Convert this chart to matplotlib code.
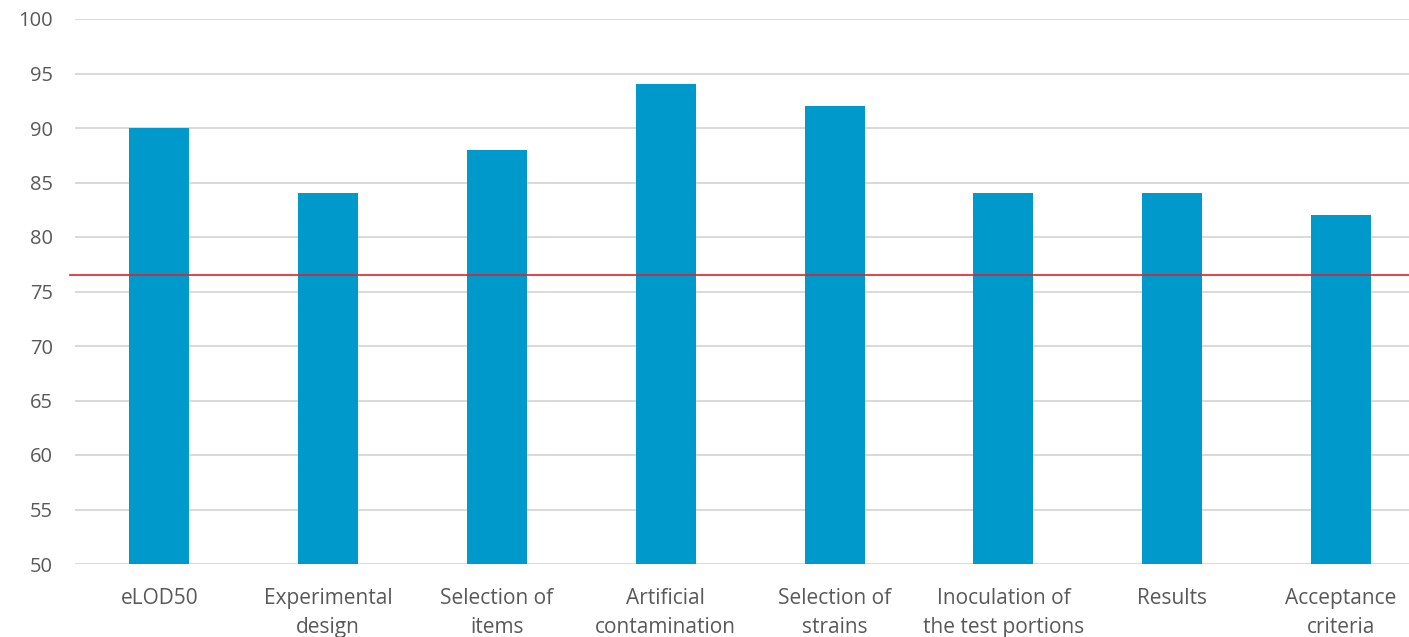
import matplotlib
matplotlib.use("Agg")
import matplotlib.pyplot as plt
import matplotlib.transforms as mtransforms

categories = ["eLOD50", "Experimental\ndesign", "Selection of\nitems",
              "Artificial\ncontamination", "Selection of\nstrains",
              "Inoculation of\nthe test portions", "Results", "Acceptance\ncriteria"]
scores = [90, 84, 88, 94, 92, 84, 84, 82]
threshold = 76.5
y_ticks = list(range(50, 101, 5))

plt.rcParams["font.family"] = ["Open Sans", "DejaVu Sans"]

fig = plt.figure(figsize=(14.09, 6.37), dpi=100)
W, H = 1409, 637
left, right, top, bottom = 75, 1409, 19, 564
ax = fig.add_axes([left / W, 1 - bottom / H, (right - left) / W, (bottom - top) / H])

spacing = 168.8
ax.set_xlim(-0.5, -0.5 + (right - left) / spacing)
ax.set_ylim(50, 100)

ax.set_yticks(y_ticks)
ax.yaxis.grid(True, color="#D9D9D9", linewidth=1.4)
ax.set_axisbelow(True)

ax.bar(range(len(categories)), [s - 50 for s in scores], bottom=50,
       width=0.355, color="#0099CC", zorder=2)

trans = mtransforms.blended_transform_factory(ax.transAxes, ax.transData)
ax.plot([-5 / (right - left), 1.0], [threshold, threshold], transform=trans,
        color="#E0232B", linewidth=1.2, clip_on=False, zorder=3)

ax.set_xticks(range(len(categories)))
ax.set_xticklabels(categories, fontsize=15, color="#595959", linespacing=1.55)
ax.tick_params(axis="y", labelsize=14.5, labelcolor="#595959", length=0, pad=16)
ax.tick_params(axis="x", length=0, pad=17)

for s in ax.spines.values():
    s.set_visible(False)

fig.savefig("out.png", dpi=100)
